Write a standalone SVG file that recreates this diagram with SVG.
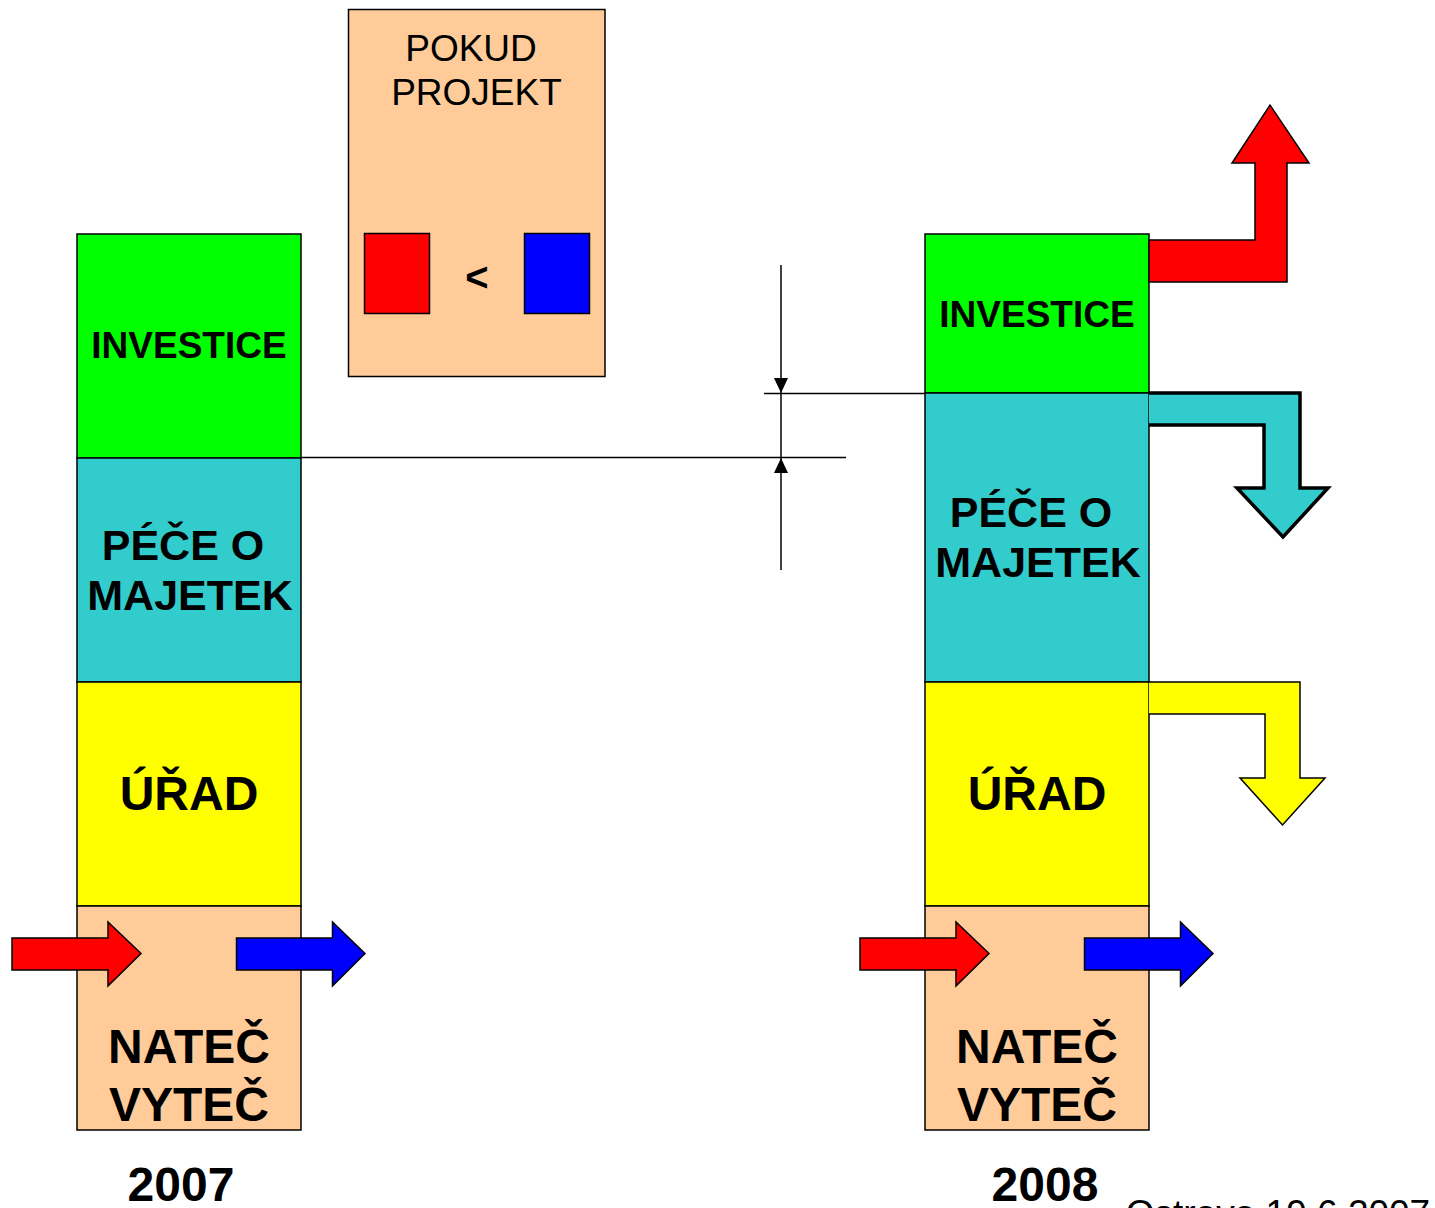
<svg xmlns="http://www.w3.org/2000/svg" width="1435" height="1208" viewBox="0 0 1435 1208">
<style>
.box{stroke:#000;stroke-width:1.5}
.arr{stroke:#000;stroke-width:1.5;stroke-linejoin:miter}
.lbl{font-family:"Liberation Sans",Arial,sans-serif;font-weight:bold;fill:#000;text-anchor:middle}
.reg{font-family:"Liberation Sans",Arial,sans-serif;fill:#000;text-anchor:middle}
.ln{stroke:#000;stroke-width:1.5;fill:none}
</style>
<defs>
<path id="inArrow" d="M12,938 H108 V922 L141,953.5 L108,986 V970 H12 Z"/>
<path id="outArrow" d="M236.5,938 H332.5 V922 L365,953.5 L332.5,986 V970 H236.5 Z"/>
</defs>
<rect width="1435" height="1208" fill="#fff"/>

<g id="col2007">
<rect class="box" x="77" y="234" width="224" height="224" fill="#00ff00"/>
<rect class="box" x="77" y="458" width="224" height="224" fill="#33cccc"/>
<rect class="box" x="77" y="682" width="224" height="224" fill="#ffff00"/>
<rect class="box" x="77" y="906" width="224" height="224" fill="#ffcc99"/>
<text class="lbl" x="189" y="358" font-size="37">INVESTICE</text>
<text class="lbl" x="183" y="560" font-size="43">PÉČE O</text>
<text class="lbl" x="190" y="610" font-size="43">MAJETEK</text>
<text class="lbl" x="189" y="810" font-size="48">ÚŘAD</text>
<text class="lbl" x="189" y="1063" font-size="48">NATEČ</text>
<text class="lbl" x="189" y="1121" font-size="48">VYTEČ</text>
<text class="lbl" x="181" y="1201" font-size="48">2007</text>
</g>

<g id="col2008">
<rect class="box" x="925" y="234" width="224" height="159" fill="#00ff00"/>
<rect class="box" x="925" y="393" width="224" height="289" fill="#33cccc"/>
<rect class="box" x="925" y="682" width="224" height="224" fill="#ffff00"/>
<rect class="box" x="925" y="906" width="224" height="224" fill="#ffcc99"/>
<text class="lbl" x="1037" y="327" font-size="37">INVESTICE</text>
<text class="lbl" x="1031" y="527" font-size="43">PÉČE O</text>
<text class="lbl" x="1038" y="577" font-size="43">MAJETEK</text>
<text class="lbl" x="1037" y="810" font-size="48">ÚŘAD</text>
<text class="lbl" x="1037" y="1063" font-size="48">NATEČ</text>
<text class="lbl" x="1037" y="1121" font-size="48">VYTEČ</text>
<text class="lbl" x="1045" y="1201" font-size="48">2008</text>
</g>

<g id="pokud">
<rect class="box" x="348.5" y="9.5" width="256.5" height="367" fill="#ffcc99"/>
<text class="reg" x="471" y="61" font-size="37">POKUD</text>
<text class="reg" x="476.5" y="105" font-size="37">PROJEKT</text>
<rect class="box" x="364.5" y="233.5" width="65" height="80" fill="#ff0000"/>
<rect class="box" x="524.5" y="233.5" width="65" height="80" fill="#0000ff"/>
<text class="lbl" x="477" y="291" font-size="40">&lt;</text>
</g>

<g id="connectors">
<use href="#inArrow" class="arr" fill="#ff0000"/>
<use href="#outArrow" class="arr" fill="#0000ff"/>
<use href="#inArrow" class="arr" fill="#ff0000" transform="translate(848,0)"/>
<use href="#outArrow" class="arr" fill="#0000ff" transform="translate(848,0)"/>
<path class="arr" fill="#ff0000" d="M1149,240 H1255 V163 H1232 L1270,105 L1309,163 H1287 V282 H1149 Z"/>
<path fill="#33cccc" stroke="#000" stroke-width="3.5" d="M1149,393 H1300 V488 H1328 L1283,537 L1237,488 H1264 V425 H1149"/>
<path class="arr" fill="#ffff00" d="M1149,682 H1300 V778 H1325 L1282.5,825 L1240,778 H1265 V714 H1149"/>
<line class="ln" x1="301" y1="457.5" x2="846" y2="457.5"/>
<line class="ln" x1="764" y1="393.5" x2="925" y2="393.5"/>
<line class="ln" x1="781" y1="265" x2="781" y2="570"/>
<polygon points="774,378 788,378 781,393" fill="#000"/>
<polygon points="774,473 788,473 781,458" fill="#000"/>
</g>

<text class="reg" x="1278" y="1226" font-size="37">Ostrava 19.6.2007</text>
</svg>
